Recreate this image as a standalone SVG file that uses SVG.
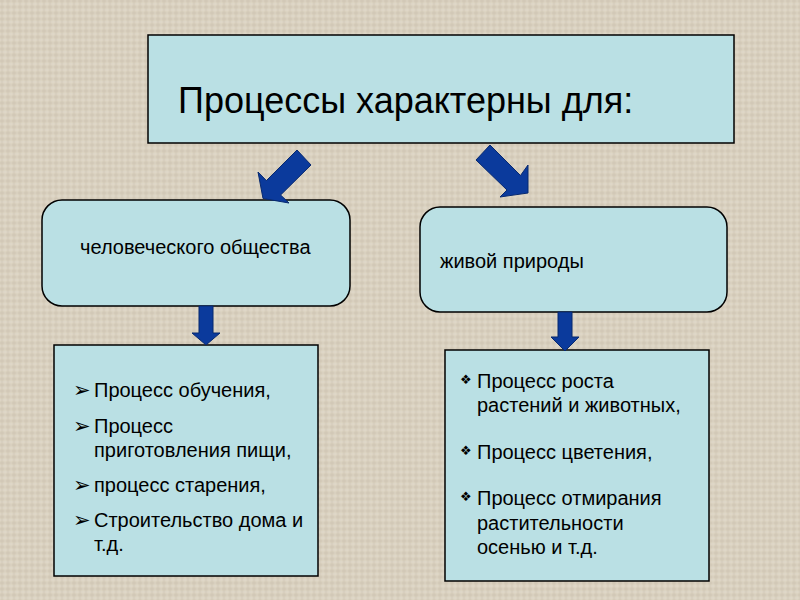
<svg xmlns="http://www.w3.org/2000/svg" width="800" height="600" viewBox="0 0 800 600">
<style>
.box{fill:#bae0e4;stroke:#000;stroke-width:1.5}
.t{font-family:"Liberation Sans",Arial,sans-serif;fill:#000}
.b{font-family:"DejaVu Sans",sans-serif;fill:#000}
.arr{fill:#0b3a9c;stroke:#07296f;stroke-width:1}
</style>
<defs>
<pattern id="linen" width="6" height="6" patternUnits="userSpaceOnUse">
<rect width="6" height="6" fill="#d9d0be"/>
<line x1="0" y1="1" x2="6" y2="1" stroke="#ccc3af" stroke-width="0.7"/>
<line x1="0" y1="4" x2="6" y2="4" stroke="#e4ddce" stroke-width="0.7"/>
<line x1="2" y1="0" x2="2" y2="6" stroke="#cdc3b0" stroke-width="0.6"/>
<line x1="5" y1="0" x2="5" y2="6" stroke="#e3dbcc" stroke-width="0.6"/>
</pattern>
</defs>
<rect width="800" height="600" fill="url(#linen)"/>

<g id="title">
<rect class="box" x="148" y="35" width="586" height="108"/>
<text class="t" x="178" y="113" font-size="36">Процессы характерны для:</text>
</g>

<g id="society">
<rect class="box" x="42" y="200" width="308" height="106" rx="20"/>
<text class="t" x="80" y="254" font-size="20">человеческого общества</text>
</g>

<g id="nature">
<rect class="box" x="420" y="207" width="307" height="105" rx="20"/>
<text class="t" x="440" y="268" font-size="20">живой природы</text>
</g>

<g id="society-list">
<rect class="box" x="54" y="345" width="264" height="231"/>
<text class="b" x="73" y="397" font-size="21">➢</text>
<text class="t" x="94" y="397" font-size="20">Процесс обучения,</text>
<text class="b" x="73" y="433" font-size="21">➢</text>
<text class="t" x="94" y="433" font-size="20">Процесс</text>
<text class="t" x="94" y="457" font-size="20">приготовления пищи,</text>
<text class="b" x="73" y="492" font-size="21">➢</text>
<text class="t" x="94" y="492" font-size="20">процесс старения,</text>
<text class="b" x="73" y="527" font-size="21">➢</text>
<text class="t" x="94" y="527" font-size="20">Строительство дома и</text>
<text class="t" x="94" y="551" font-size="20">т.д.</text>
</g>

<g id="nature-list">
<rect class="box" x="445" y="350" width="264" height="231"/>
<text class="b" x="460" y="384" font-size="13">❖</text>
<text class="t" x="477" y="388" font-size="20">Процесс роста</text>
<text class="t" x="477" y="412" font-size="20">растений и животных,</text>
<text class="b" x="460" y="455" font-size="13">❖</text>
<text class="t" x="477" y="459" font-size="20">Процесс цветения,</text>
<text class="b" x="460" y="501" font-size="13">❖</text>
<text class="t" x="477" y="505" font-size="20">Процесс отмирания</text>
<text class="t" x="477" y="530" font-size="20">растительности</text>
<text class="t" x="477" y="554" font-size="20">осенью и т.д.</text>
</g>

<g id="connectors">
<polygon class="arr" points="297,150 311,165 280.6,195 289,203 263,198.5 258,172 266.4,180.6"/>
<polygon class="arr" points="490,145 520.5,175.5 528,165 528,193 500,197 507,190 476,160"/>
<polygon class="arr" points="199,306 213,306 213,333 220,333 206,345 192,333 199,333"/>
<polygon class="arr" points="558,312 572,312 572,337 579,337 565,351 551,337 558,337"/>
</g>
</svg>
